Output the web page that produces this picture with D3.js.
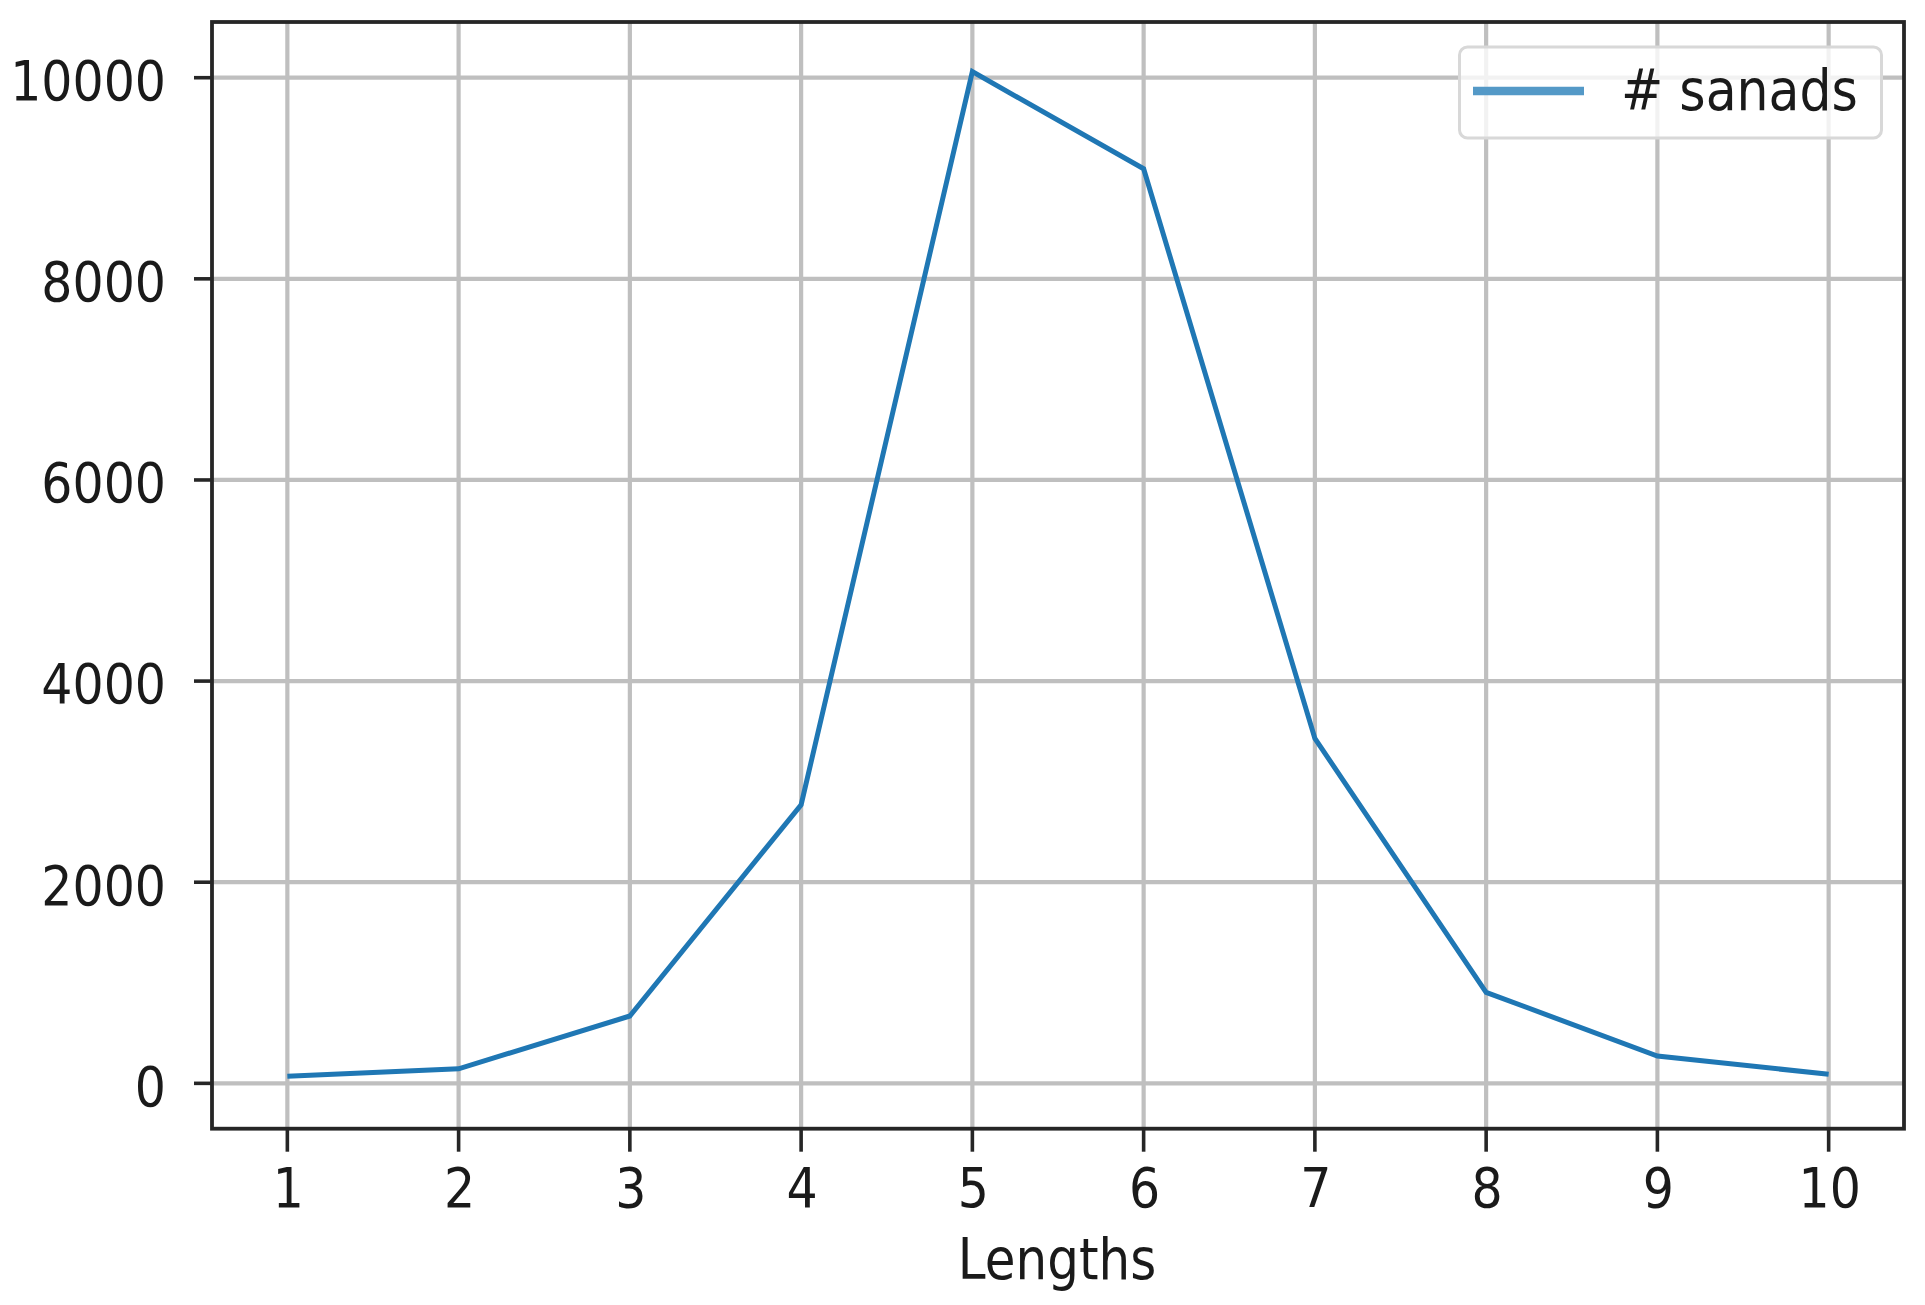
<!DOCTYPE html>
<html>
<head>
<meta charset="utf-8">
<script src="https://cdn.jsdelivr.net/npm/d3@7"></script>
<style>
  html, body { margin: 0; padding: 0; background: #ffffff; }
  svg { display: block; }
  text { font-family: "DejaVu Sans", sans-serif; fill: #1a1a1a; }
</style>
</head>
<body>
<svg id="chart" width="1925" height="1305"></svg>
<script>
// ---- data ----
const lengths = [1, 2, 3, 4, 5, 6, 7, 8, 9, 10];
const sanads = [70, 145, 670, 2770, 10060, 9095, 3430, 905, 272, 90];
const xTicks = [1, 2, 3, 4, 5, 6, 7, 8, 9, 10];
const yTicks = [0, 2000, 4000, 6000, 8000, 10000];
const xLimits = [0.56, 10.44];
const yLimits = [-451, 10554];
const seriesName = "# sanads";
const xTitle = "Lengths";

// ---- layout ----
const frame = { left: 212, right: 1904, top: 22, bottom: 1128.7 };
const fontSize = 49;
const vStretch = 1.14;

const svg = d3.select("#chart");
svg.append("rect").attr("width", 1925).attr("height", 1305).attr("fill", "#ffffff");

const x = d3.scaleLinear().domain(xLimits).range([frame.left, frame.right]);
const y = d3.scaleLinear().domain(yLimits).range([frame.bottom, frame.top]);

// grid
const grid = svg.append("g");
grid.selectAll("line.vx").data(xTicks).enter().append("line")
  .attr("x1", d => x(d)).attr("x2", d => x(d))
  .attr("y1", frame.top).attr("y2", frame.bottom)
  .attr("stroke", "#bfbfbf").attr("stroke-width", 4.2);
grid.selectAll("line.hy").data(yTicks).enter().append("line")
  .attr("y1", d => y(d)).attr("y2", d => y(d))
  .attr("x1", frame.left).attr("x2", frame.right)
  .attr("stroke", "#bfbfbf").attr("stroke-width", 4.2);

// series line
const line = d3.line().x((d, i) => x(lengths[i])).y(d => y(d));
svg.append("path").datum(sanads)
  .attr("d", line)
  .attr("fill", "none")
  .attr("stroke", "#1f77b4")
  .attr("stroke-width", 5)
  .attr("stroke-linejoin", "miter")
  .attr("stroke-linecap", "butt");

// spines
svg.append("rect")
  .attr("x", frame.left).attr("y", frame.top)
  .attr("width", frame.right - frame.left).attr("height", frame.bottom - frame.top)
  .attr("fill", "none").attr("stroke", "#262626").attr("stroke-width", 3.8);

// ticks
svg.selectAll("line.xt").data(xTicks).enter().append("line")
  .attr("x1", d => x(d)).attr("x2", d => x(d))
  .attr("y1", frame.bottom).attr("y2", frame.bottom + 23)
  .attr("stroke", "#262626").attr("stroke-width", 3.6);
svg.selectAll("line.yt").data(yTicks).enter().append("line")
  .attr("y1", d => y(d)).attr("y2", d => y(d))
  .attr("x1", frame.left - 18).attr("x2", frame.left)
  .attr("stroke", "#262626").attr("stroke-width", 3.6);

function stretchedText(sel, tx, ty, anchor, size) {
  return sel.append("text")
    .attr("transform", `translate(${tx},${ty}) scale(1,${vStretch})`)
    .attr("text-anchor", anchor)
    .attr("font-size", size || fontSize);
}

// x tick labels
xTicks.forEach(t => {
  stretchedText(svg, x(t) + 1, 1207, "middle").text(String(t));
});
// y tick labels
yTicks.forEach(t => {
  stretchedText(svg, 166, y(t) + 22.3, "end").text(String(t));
});
// x title
stretchedText(svg, (frame.left + frame.right) / 2 - 1, 1279, "middle", 50).text(xTitle);

// legend
const lg = svg.append("g");
lg.append("rect")
  .attr("x", 1459.5).attr("y", 47).attr("width", 422).attr("height", 91)
  .attr("rx", 8).attr("ry", 8)
  .attr("fill", "#ffffff").attr("fill-opacity", 0.8)
  .attr("stroke", "#d8d8d8").attr("stroke-width", 3);
lg.append("line")
  .attr("x1", 1473).attr("x2", 1584).attr("y1", 91).attr("y2", 91)
  .attr("stroke", "#5499c7").attr("stroke-width", 8.5);
stretchedText(lg, 1621, 110, "start", 50.5).text(seriesName);
</script>
</body>
</html>
